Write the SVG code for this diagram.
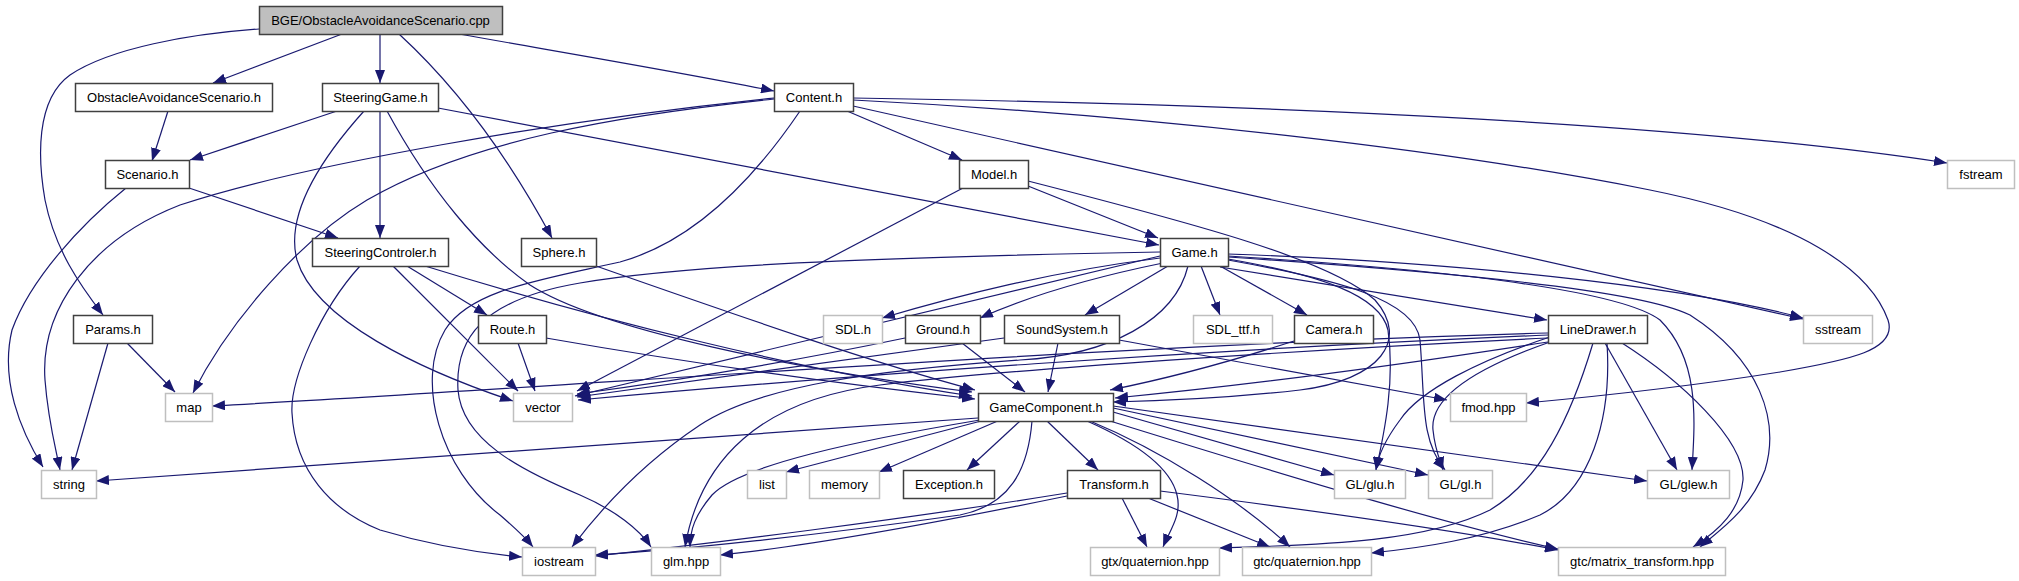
<svg xmlns="http://www.w3.org/2000/svg" width="2019" height="581" viewBox="0 0 2019 581">
<style>
.bg{fill:#ffffff}
.n rect{fill:#ffffff;stroke:#404040;stroke-width:1.5}
.r rect{fill:#bfbfbf;stroke:#404040;stroke-width:1.5}
.s rect{fill:#ffffff;stroke:#bfbfbf;stroke-width:1.5}
text{font-family:"Liberation Sans",Arial,sans-serif;font-size:13px;fill:#000000;text-anchor:middle}
.e path{fill:none;stroke:#191970;stroke-width:1.2;marker-end:url(#a)}
</style>
<defs>
<marker id="a" markerUnits="userSpaceOnUse" markerWidth="14" markerHeight="10" refX="13" refY="5" orient="auto">
<path d="M0,0 L13,5 L0,10 z" fill="#191970" stroke="none"/>
</marker>
</defs>
<rect class="bg" x="0" y="0" width="2019" height="581"/>
<g class="e" id="edges">
<path d="M342,34 L213,83"/>
<path d="M380,34 L380,83"/>
<path d="M459,34 C560,52 680,72 774,91"/>
<path d="M399,34 C460,90 510,160 552,238"/>
<path d="M259,29 C190,34 110,48 70,75 C35,100 38,160 45,200 C55,250 80,285 103,315"/>
<path d="M168,111 L152,161"/>
<path d="M337,111 L190,160"/>
<path d="M380,111 L380,238"/>
<path d="M438,108 L1159,245"/>
<path d="M364,111 C320,160 285,215 297,260 C315,320 420,370 513,401"/>
<path d="M387,111 C430,190 480,250 530,285 C600,330 800,370 972,392"/>
<path d="M189,188 L338,238"/>
<path d="M126,188 C80,225 30,280 12,330 C0,380 20,430 43,467"/>
<path d="M847,111 L962,160"/>
<path d="M853,98 C1300,105 1700,125 1947,163"/>
<path d="M853,106 L1803,319"/>
<path d="M853,100 C1150,115 1450,150 1650,190 C1800,220 1870,270 1888,320 C1898,350 1850,360 1780,372 C1680,388 1580,398 1526,403"/>
<path d="M774,98 C560,120 300,165 180,205 C90,240 40,310 45,380 C48,420 55,445 60,470"/>
<path d="M774,99 C620,115 470,140 367,200 C300,240 230,320 193,393"/>
<path d="M800,111 C760,170 700,240 620,262 C540,280 470,290 445,330 C415,380 440,470 500,515 C515,528 525,537 533,547"/>
<path d="M1028,186 L1158,238"/>
<path d="M963,188 L577,391"/>
<path d="M1028,181 C1200,225 1330,260 1375,300 C1410,340 1380,380 1300,390 C1230,398 1160,401 1113,402"/>
<path d="M1160,256 L575,396"/>
<path d="M1160,252 C950,256 700,262 580,283 C480,300 455,340 458,390 C462,440 520,470 580,495 C615,510 640,530 651,547"/>
<path d="M1188,266 C1175,320 1110,355 1020,360 C880,370 760,385 700,425 C640,465 600,510 572,547"/>
<path d="M1160,258 C1050,272 960,295 882,318"/>
<path d="M1163,263 C1080,280 1020,300 980,318"/>
<path d="M1168,266 L1085,315"/>
<path d="M1201,266 L1220,315"/>
<path d="M1220,266 L1307,315"/>
<path d="M1220,267 L1547,320"/>
<path d="M1228,254 C1450,262 1680,285 1803,318"/>
<path d="M1228,256 C1450,270 1620,290 1660,320 C1700,360 1695,420 1692,470"/>
<path d="M1228,257 C1450,272 1640,290 1690,315 C1760,360 1780,420 1765,470 C1750,510 1720,530 1700,547"/>
<path d="M1228,259 C1320,275 1380,295 1388,330 C1395,380 1385,430 1376,470"/>
<path d="M1228,260 C1340,280 1415,300 1420,340 C1425,400 1420,440 1445,470"/>
<path d="M962,343 L1025,392"/>
<path d="M905,338 C800,360 680,380 577,394"/>
<path d="M1058,343 L1048,392"/>
<path d="M1004,338 C850,360 700,380 577,397"/>
<path d="M1119,340 L1447,400"/>
<path d="M1294,341 C1220,365 1160,380 1110,390"/>
<path d="M1548,342 C1400,365 1250,385 1115,398"/>
<path d="M1548,335 C1200,350 850,375 578,400"/>
<path d="M1548,333 C1100,345 600,385 212,406"/>
<path d="M1548,338 C1300,350 1000,370 880,385 C760,400 700,460 685,547"/>
<path d="M1550,337 C1480,360 1420,390 1400,420 C1385,440 1378,455 1376,470"/>
<path d="M1550,342 C1470,370 1430,400 1433,430 C1435,450 1440,460 1443,470"/>
<path d="M1605,343 L1677,470"/>
<path d="M1622,343 C1680,380 1745,440 1743,480 C1740,510 1720,530 1693,547"/>
<path d="M1593,343 C1570,420 1540,480 1490,510 C1420,545 1300,545 1219,548"/>
<path d="M1607,343 C1612,420 1590,490 1540,515 C1480,540 1420,548 1371,553"/>
<path d="M978,418 L96,481"/>
<path d="M985,420 L786,472"/>
<path d="M1000,420 L879,472"/>
<path d="M1020,421 L967,470"/>
<path d="M1047,421 L1098,470"/>
<path d="M1087,421 C1130,440 1170,465 1177,495 C1182,515 1170,530 1163,547"/>
<path d="M1090,421 C1160,450 1240,500 1290,547"/>
<path d="M1110,421 C1300,480 1450,525 1558,549"/>
<path d="M1113,412 L1334,475"/>
<path d="M1113,408 L1428,475"/>
<path d="M1113,406 L1647,481"/>
<path d="M980,420 C860,440 740,465 712,495 C695,515 690,530 690,547"/>
<path d="M1032,421 C1028,470 1010,505 960,515 C820,535 680,550 595,555"/>
<path d="M1122,498 L1147,547"/>
<path d="M1148,498 L1270,547"/>
<path d="M1160,491 C1350,515 1480,535 1558,550"/>
<path d="M1067,493 C900,520 700,545 595,556"/>
<path d="M1067,496 C950,520 820,545 720,555"/>
<path d="M407,266 L487,315"/>
<path d="M393,266 L518,391"/>
<path d="M425,266 C600,320 800,370 972,396"/>
<path d="M360,266 C320,310 290,380 292,413 C295,470 330,510 380,530 C430,545 480,553 522,557"/>
<path d="M518,343 L535,391"/>
<path d="M546,338 C700,365 850,385 975,399"/>
<path d="M596,266 C750,320 880,365 975,390"/>
<path d="M127,343 L175,392"/>
<path d="M108,343 L72,470"/>
</g>
<g id="n_root" class="r"><rect x="259.5" y="6.5" width="243" height="28"/><text x="380.5" y="24.5">BGE/ObstacleAvoidanceScenario.cpp</text></g>
<g id="n_oas_h" class="n"><rect x="75.5" y="83.5" width="197" height="28"/><text x="174" y="101.5">ObstacleAvoidanceScenario.h</text></g>
<g id="n_steeringgame" class="n"><rect x="322.5" y="83.5" width="116" height="28"/><text x="380.5" y="101.5">SteeringGame.h</text></g>
<g id="n_content" class="n"><rect x="774.5" y="83.5" width="79" height="28"/><text x="814" y="101.5">Content.h</text></g>
<g id="n_scenario" class="n"><rect x="105.5" y="160.5" width="84" height="28"/><text x="147.5" y="178.5">Scenario.h</text></g>
<g id="n_model" class="n"><rect x="959.5" y="160.5" width="69" height="28"/><text x="994" y="178.5">Model.h</text></g>
<g id="n_fstream" class="s"><rect x="1947.5" y="160.5" width="67" height="28"/><text x="1981" y="178.5">fstream</text></g>
<g id="n_steeringcontroler" class="n"><rect x="312.5" y="238.5" width="136" height="28"/><text x="380.5" y="256.5">SteeringControler.h</text></g>
<g id="n_sphere" class="n"><rect x="521.5" y="238.5" width="75" height="28"/><text x="559" y="256.5">Sphere.h</text></g>
<g id="n_game" class="n"><rect x="1160.5" y="238.5" width="68" height="28"/><text x="1194.5" y="256.5">Game.h</text></g>
<g id="n_params" class="n"><rect x="73.5" y="315.5" width="79" height="28"/><text x="113" y="333.5">Params.h</text></g>
<g id="n_route" class="n"><rect x="478.5" y="315.5" width="68" height="28"/><text x="512.5" y="333.5">Route.h</text></g>
<g id="n_sdl" class="s"><rect x="823.5" y="315.5" width="59" height="28"/><text x="853" y="333.5">SDL.h</text></g>
<g id="n_ground" class="n"><rect x="905.5" y="315.5" width="75" height="28"/><text x="943" y="333.5">Ground.h</text></g>
<g id="n_soundsystem" class="n"><rect x="1004.5" y="315.5" width="115" height="28"/><text x="1062" y="333.5">SoundSystem.h</text></g>
<g id="n_sdl_ttf" class="s"><rect x="1193.5" y="315.5" width="79" height="28"/><text x="1233" y="333.5">SDL_ttf.h</text></g>
<g id="n_camera" class="n"><rect x="1294.5" y="315.5" width="79" height="28"/><text x="1334" y="333.5">Camera.h</text></g>
<g id="n_linedrawer" class="n"><rect x="1548.5" y="315.5" width="99" height="28"/><text x="1598" y="333.5">LineDrawer.h</text></g>
<g id="n_sstream" class="s"><rect x="1803.5" y="315.5" width="69" height="28"/><text x="1838" y="333.5">sstream</text></g>
<g id="n_map" class="s"><rect x="165.5" y="393.5" width="47" height="28"/><text x="189" y="411.5">map</text></g>
<g id="n_vector" class="s"><rect x="513.5" y="393.5" width="59" height="28"/><text x="543" y="411.5">vector</text></g>
<g id="n_gamecomponent" class="n"><rect x="978.5" y="393.5" width="135" height="28"/><text x="1046" y="411.5">GameComponent.h</text></g>
<g id="n_fmod" class="s"><rect x="1450.5" y="393.5" width="76" height="28"/><text x="1488.5" y="411.5">fmod.hpp</text></g>
<g id="n_string" class="s"><rect x="41.5" y="470.5" width="55" height="28"/><text x="69" y="488.5">string</text></g>
<g id="n_list" class="s"><rect x="747.5" y="470.5" width="39" height="28"/><text x="767" y="488.5">list</text></g>
<g id="n_memory" class="s"><rect x="809.5" y="470.5" width="70" height="28"/><text x="844.5" y="488.5">memory</text></g>
<g id="n_exception" class="n"><rect x="903.5" y="470.5" width="91" height="28"/><text x="949" y="488.5">Exception.h</text></g>
<g id="n_transform" class="n"><rect x="1067.5" y="470.5" width="93" height="28"/><text x="1114" y="488.5">Transform.h</text></g>
<g id="n_glu" class="s"><rect x="1334.5" y="470.5" width="71" height="28"/><text x="1370" y="488.5">GL/glu.h</text></g>
<g id="n_gl" class="s"><rect x="1428.5" y="470.5" width="64" height="28"/><text x="1460.5" y="488.5">GL/gl.h</text></g>
<g id="n_glew" class="s"><rect x="1647.5" y="470.5" width="82" height="28"/><text x="1688.5" y="488.5">GL/glew.h</text></g>
<g id="n_iostream" class="s"><rect x="522.5" y="547.5" width="73" height="28"/><text x="559" y="565.5">iostream</text></g>
<g id="n_glm" class="s"><rect x="651.5" y="547.5" width="69" height="28"/><text x="686" y="565.5">glm.hpp</text></g>
<g id="n_gtx_quaternion" class="s"><rect x="1090.5" y="547.5" width="129" height="28"/><text x="1155" y="565.5">gtx/quaternion.hpp</text></g>
<g id="n_gtc_quaternion" class="s"><rect x="1242.5" y="547.5" width="129" height="28"/><text x="1307" y="565.5">gtc/quaternion.hpp</text></g>
<g id="n_matrix_transform" class="s"><rect x="1558.5" y="547.5" width="167" height="28"/><text x="1642" y="565.5">gtc/matrix_transform.hpp</text></g>
</svg>
